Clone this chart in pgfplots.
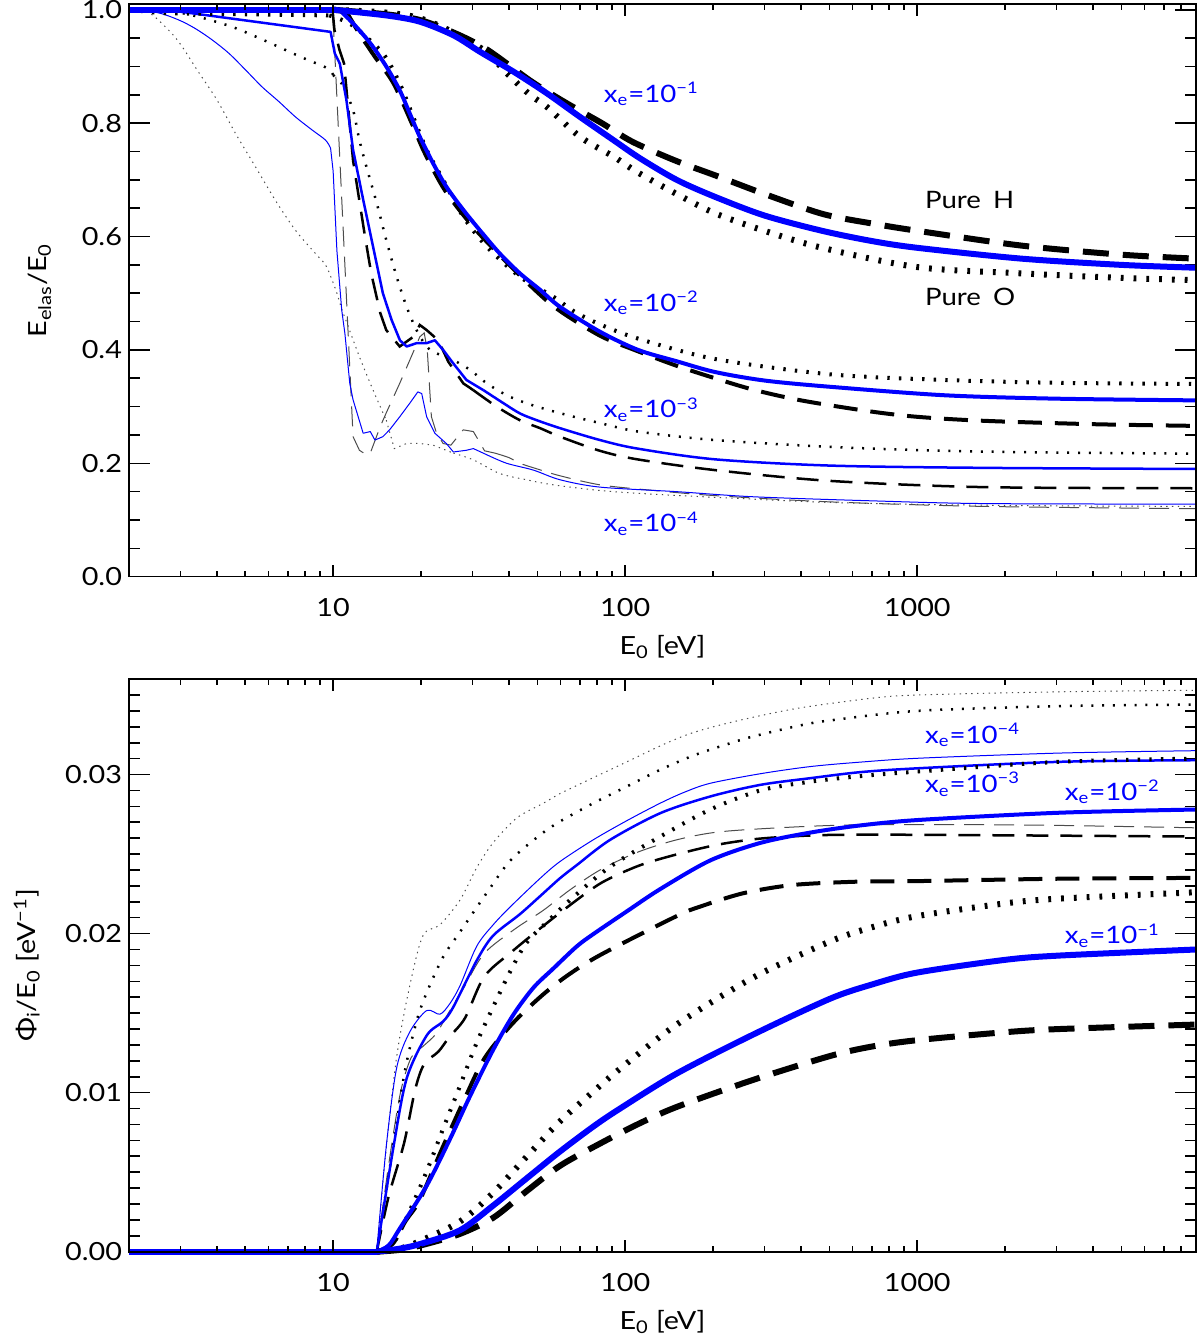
\documentclass[border=0pt]{standalone}
\usepackage{fontspec}
\setmainfont{Lato}[FakeStretch=1.15]
\usepackage{pgfplots}
\pgfplotsset{compat=1.18}
\newcommand{\lfont}{\fontsize{12.5}{15}\selectfont}
\newcommand{\afont}{\fontsize{12}{14}\selectfont}
\tikzset{
  lb1/.style={blue, line width=3pt, line join=round},
  ld1/.style={black, line width=3pt, dash pattern=on 13pt off 7pt},
  lo1/.style={black, line width=3pt, dash pattern=on 1.4pt off 5pt},
  lb2/.style={blue, line width=2pt, line join=round},
  ld2/.style={black, line width=2pt, dash pattern=on 12pt off 6.5pt},
  lo2/.style={black, line width=2pt, dash pattern=on 1.2pt off 4.6pt},
  lb3/.style={blue, line width=1.25pt, line join=round},
  ld3/.style={black, line width=1.25pt, dash pattern=on 11pt off 6pt},
  lo3/.style={black, line width=1.25pt, dash pattern=on 1pt off 4.4pt},
  lb4/.style={blue, line width=0.5pt, line join=round},
  ld4/.style={black!70, line width=0.5pt, dash pattern=on 10pt off 5pt},
  lo4/.style={black!70, line width=0.5pt, dash pattern=on 0.7pt off 2.2pt},
  sm/.style={smooth, tension=0.5},
}
\begin{document}
\begin{tikzpicture}
% ================= TOP PANEL =================
\begin{axis}[scale only axis, width=533.5pt, height=286.3pt,
  xmode=log, xmin=2, xmax=9000, clip=false,
  axis line style={line width=0.8pt},
  every tick/.style={black, line width=0.8pt},
  tick label style={font=\lfont}, label style={font=\lfont},
  at={(0,337.5pt)}, anchor=south west,
  xtick=\empty, major tick length=10.5pt, minor tick length=5.5pt,
  ymin=0, ymax=1.01, ytick={0,0.2,0.4,0.6,0.8,1.0},
  minor ytick={0.05,0.1,0.15,0.25,0.3,0.35,0.45,0.5,0.55,0.65,0.7,0.75,0.85,0.9,0.95},
  yticklabel style={/pgf/number format/.cd, fixed, fixed zerofill, precision=1, assume math mode=true},
  ylabel style={at={(axis description cs:-0.0774,0.5)}, anchor=base},
  ylabel={E\textsubscript{elas}/E\textsubscript{0}}]
% --- xe = 1e-4 ---
\addplot[ld4] coordinates {(2,1.0) (9.9,1.0) (10.05,0.96) (11.7,0.247) (12.3,0.223) (13.0,0.215) (13.4,0.218) (14.5,0.265) (15.2,0.289) (16.9,0.341) (18.3,0.382) (19.8,0.423) (20.5,0.43) (21.0,0.40) (21.7,0.282) (22.6,0.253) (23.8,0.235) (25.3,0.232) (26.5,0.245) (27.9,0.259) (30.2,0.256) (31.5,0.24) (33,0.222) (35.8,0.218)};
\addplot[ld4, sm] coordinates {(35.8,0.218) (40,0.21) (43.6,0.20) (50,0.19) (59.8,0.178) (82,0.162) (120,0.153) (203,0.143) (502,0.132) (1678,0.124) (9000,0.120)};
\addplot[lo4, sm] coordinates {(2,1.0) (2.34,0.995) (2.77,0.961) (3.04,0.935) (3.42,0.894) (4.0,0.841) (4.63,0.782) (5.42,0.723) (6.34,0.664) (7.43,0.611) (8.7,0.570) (9.42,0.550) (9.92,0.523) (10.3,0.50) (10.7,0.472) (11.1,0.450) (12.3,0.388) (13.7,0.329) (15.2,0.276)};
\addplot[lo4] coordinates {(15.2,0.276) (16.2,0.226) (17.85,0.235) (19.8,0.235) (22,0.232) (25.8,0.218)};
\addplot[lo4, sm] coordinates {(25.8,0.218) (30.2,0.206) (37.2,0.182) (45.9,0.171) (56.7,0.162) (82,0.152) (120,0.146) (203,0.140) (502,0.131) (1242,0.127) (3000,0.125) (9000,0.124)};
\addplot[lb4, sm] coordinates {(2,1.0) (2.5,0.995) (2.96,0.982) (3.37,0.967) (3.85,0.947) (4.4,0.923) (5.01,0.894) (5.71,0.864) (6.52,0.838) (7.43,0.811) (8.47,0.788) (9.42,0.770) (9.8,0.756)};
\addplot[lb4] coordinates {(9.8,0.756) (10.0,0.715) (10.3,0.575) (10.7,0.47) (10.97,0.429) (11.4,0.341) (11.7,0.312) (12.67,0.253) (13.4,0.256) (13.9,0.241) (14.8,0.247) (15.6,0.259) (16.9,0.282) (18.3,0.306) (19.5,0.326) (20.1,0.323) (20.9,0.282) (22.3,0.253) (24.4,0.235) (25.8,0.22) (28.6,0.223) (30.2,0.226) (33.6,0.215)};
\addplot[lb4, sm] coordinates {(33.6,0.215) (39.3,0.20) (48.5,0.188) (59.8,0.171) (82,0.158) (150,0.150) (274,0.141) (680,0.134) (1678,0.129) (9000,0.128)};
% --- xe = 1e-3 ---
\addplot[ld3] coordinates {(2,1.0) (9.95,1.0) (10.1,0.965) (10.5,0.93) (10.9,0.905) (11.7,0.734) (12.8,0.606) (13.5,0.535) (14.5,0.465) (15.2,0.435) (16.9,0.406) (18.8,0.423) (19.8,0.444) (20.9,0.435) (22.9,0.417) (24.8,0.379) (27.9,0.341) (30.2,0.329)};
\addplot[ld3, sm] coordinates {(30.2,0.329) (36.3,0.30) (43.6,0.276) (51.1,0.262) (59.8,0.247) (82,0.222) (110,0.207) (203,0.188) (502,0.169) (1678,0.158) (9000,0.156)};
\addplot[lo3, sm] coordinates {(2,1.0) (2.7,0.998) (3.37,0.989) (4.5,0.970) (5.87,0.945) (7.73,0.917) (9.54,0.897) (10,0.885)};
\addplot[lo3, sm] coordinates {(10,0.885) (10.46,0.874) (10.8,0.866) (11.7,0.823) (12.3,0.77) (13.0,0.723) (14.1,0.659) (15.2,0.594) (16.5,0.529) (17.85,0.476) (19.3,0.435) (20.9,0.406) (22.6,0.394) (25.8,0.382) (29.4,0.365) (33.6,0.341) (39.3,0.32) (45.9,0.306) (53.8,0.295) (66.8,0.282) (82,0.271) (110.7,0.256) (203,0.241) (502,0.229) (1242,0.222) (3000,0.219) (9000,0.217)};
\addplot[lb3] coordinates {(2,1.0) (2.96,0.997) (9.8,0.961) (10.13,0.923) (10.54,0.905) (11.1,0.841) (11.7,0.753) (12.67,0.665) (13.7,0.582) (14.8,0.50) (15.85,0.453) (16.93,0.417) (17.85,0.406) (19.31,0.412) (20.9,0.412) (22.3,0.417) (23.8,0.40) (25.8,0.376) (28.6,0.347) (32.7,0.329)};
\addplot[lb3, sm] coordinates {(32.7,0.329) (38.3,0.306) (43.6,0.288) (49.8,0.276) (59.8,0.262) (82,0.241) (110,0.226) (203,0.207) (502,0.196) (1678,0.192) (9000,0.190)};
% --- xe = 1e-2 ---
\addplot[ld2] coordinates {(2,1.0) (11,1.0)};
\addplot[ld2, sm] coordinates {(11,1.0) (12.3,0.958) (13.9,0.917) (16.1,0.87) (18.8,0.794) (20.6,0.747) (24.1,0.682) (29.8,0.62) (35.8,0.576) (45.9,0.520) (58.2,0.473) (82,0.425) (110,0.398) (150,0.372) (203,0.350) (274,0.330) (400,0.311) (680,0.292) (1000,0.282) (1683,0.275) (4000,0.269) (9000,0.266)};
\addplot[lo2] coordinates {(2,1.0) (2.6,0.994) (9.7,0.99)};
\addplot[lo2, sm] coordinates {(9.7,0.99) (11.6,0.973) (14.8,0.923) (16.9,0.87) (18.8,0.811) (20.9,0.753) (23.8,0.70) (27.9,0.635) (33.6,0.582) (43.6,0.529) (56.7,0.494) (66.8,0.468) (82,0.445) (110.7,0.420) (203,0.384) (502,0.357) (1242,0.347) (3000,0.342) (9000,0.340)};
\addplot[lb2] coordinates {(2,1.0) (10.5,1.0)};
\addplot[lb2, sm] coordinates {(10.5,1.0) (11.7,0.976) (13.4,0.941) (15.2,0.90) (16.9,0.858) (18.3,0.817) (19.8,0.776) (22,0.729) (24.4,0.688) (27.9,0.647) (31.8,0.611) (37.2,0.570) (43.6,0.535) (51.1,0.506) (59.8,0.476) (82,0.432) (110.7,0.400) (150,0.380) (203,0.361) (300,0.346) (502,0.335) (1242,0.320) (3000,0.314) (9000,0.311)};
% --- xe = 1e-1 ---
\addplot[ld1] coordinates {(2,1.0) (10,1.0)};
\addplot[ld1, sm] coordinates {(10,1.0) (15.2,0.992) (19.8,0.982) (25.8,0.96) (33.6,0.93) (47.9,0.873) (63.1,0.835) (83.2,0.80) (106,0.767) (150,0.733) (203,0.708) (300,0.675) (473,0.640) (700,0.623) (1004,0.610) (2275,0.584) (5000,0.568) (9000,0.561)};
\addplot[lo1] coordinates {(2,1.0) (10,1.0)};
\addplot[lo1, sm] coordinates {(10,1.0) (15.2,0.995) (19.8,0.985) (25.8,0.96) (33.6,0.925) (39.3,0.888) (47.2,0.85) (53.8,0.829) (70,0.776) (91.2,0.741) (109.6,0.714) (150,0.675) (203,0.641) (300,0.61) (473,0.580) (1004,0.546) (2275,0.535) (5000,0.527) (9000,0.523)};
\addplot[lb1] coordinates {(2,1.0) (10,1.0)};
\addplot[lb1, sm] coordinates {(10,1.0) (15.2,0.99) (19.8,0.979) (25.8,0.955) (31.8,0.926) (41.4,0.891) (53.8,0.853) (70,0.811) (91.2,0.770) (112.4,0.738) (150,0.700) (203,0.670) (300,0.637) (473,0.610) (700,0.592) (1004,0.580) (2275,0.561) (5000,0.550) (9000,0.545)};
\node[anchor=base west, text=blue, font=\afont] at (axis cs:80,0.837) {x\textsubscript{e}=10\textsuperscript{−1}};
\node[anchor=base west, text=blue, font=\afont] at (axis cs:80,0.468) {x\textsubscript{e}=10\textsuperscript{−2}};
\node[anchor=base west, text=blue, font=\afont] at (axis cs:80,0.280) {x\textsubscript{e}=10\textsuperscript{−3}};
\node[anchor=base west, text=blue, font=\afont] at (axis cs:80,0.079) {x\textsubscript{e}=10\textsuperscript{−4}};
\node[anchor=base west, font=\afont] at (axis cs:1006,0.650) {Pure\hspace{0.5em}H};
\node[anchor=base west, font=\afont] at (axis cs:1006,0.479) {Pure\hspace{0.5em}O};
\end{axis}
\begin{axis}[scale only axis, width=533.5pt, height=286.3pt,
  xmode=log, xmin=2, xmax=9000,
  axis line style={line width=0.8pt},
  every tick/.style={black, line width=0.8pt},
  tick label style={font=\lfont}, label style={font=\lfont},
  at={(0,337.5pt)}, anchor=south west,
  ymin=0, ymax=1.01, ytick=\empty,
  xtick={10,100,1000}, xticklabels={10,100,1000},
  minor xtick={2,3,4,5,6,7,8,9,20,30,40,50,60,70,80,90,200,300,400,500,600,700,800,900,2000,3000,4000,5000,6000,7000,8000,9000},
  major tick length=6pt, minor tick length=3pt,
  xticklabel style={yshift=-7.3pt},
  xlabel style={at={(axis description cs:0.5,-0.1352)}, anchor=base},
  xlabel={E\textsubscript{0} [eV]}]
\end{axis}
% ================= BOTTOM PANEL =================
\begin{axis}[scale only axis, width=533.5pt, height=286.3pt,
  xmode=log, xmin=2, xmax=9000, clip=false,
  axis line style={line width=0.8pt},
  every tick/.style={black, line width=0.8pt},
  tick label style={font=\lfont}, label style={font=\lfont},
  at={(0,0)}, anchor=south west,
  xtick=\empty, major tick length=10.5pt, minor tick length=5.5pt,
  ymin=0, ymax=0.036, ytick={0,0.01,0.02,0.03},
  minor ytick={0.001,0.002,0.003,0.004,0.005,0.006,0.007,0.008,0.009,0.011,0.012,0.013,0.014,0.015,0.016,0.017,0.018,0.019,0.021,0.022,0.023,0.024,0.025,0.026,0.027,0.028,0.029,0.031,0.032,0.033,0.034,0.035},
  scaled y ticks=false,
  yticklabel style={/pgf/number format/.cd, fixed, fixed zerofill, precision=2, assume math mode=true},
  ylabel style={at={(axis description cs:-0.0879,0.5)}, anchor=base},
  ylabel={Φ\textsubscript{i}/E\textsubscript{0} [eV\textsuperscript{−1}]}]
% flat parts below threshold
\addplot[ld4] coordinates {(2,0) (14.1,0)};
\addplot[lo4] coordinates {(2,0) (14.1,0)};
\addplot[ld3] coordinates {(2,0) (14.1,0)};
\addplot[lo3] coordinates {(2,0) (14.1,0)};
\addplot[ld2] coordinates {(2,0) (14.1,0)};
\addplot[lo2] coordinates {(2,0) (14.1,0)};
\addplot[ld1] coordinates {(2,0) (14.1,0)};
\addplot[lo1] coordinates {(2,0) (14.1,0)};
% --- xe = 1e-4 ---
\addplot[ld4, sm] coordinates {(14.1,0) (15.5,0.0055) (17,0.0100) (18.5,0.0122) (20.3,0.01291) (22.5,0.0137) (25.1,0.01516) (28,0.0166) (32.9,0.01875) (42,0.0203) (52.3,0.02145) (64.7,0.02275) (82,0.0240) (109.6,0.0251) (150.4,0.0259) (211,0.0264) (377,0.0267) (638,0.02684) (1500,0.02685) (3076,0.0268) (9000,0.02665)};
\addplot[lo4, sm] coordinates {(14.1,0) (15.0,0.0055) (16.5,0.01225) (18.3,0.01673) (20.3,0.01987) (23.2,0.02055) (27.2,0.02212) (31,0.02414) (35.3,0.02571) (42.6,0.02728) (52.5,0.0282) (59.8,0.0288) (76.7,0.02975) (101.3,0.0308) (131.8,0.0318) (162.6,0.0325) (200,0.0330) (274,0.0336) (400,0.0342) (700,0.0348) (1000,0.0350) (3076,0.0352) (9000,0.0353)};
\addplot[lb4, sm] coordinates {(14.1,0) (15.2,0.00662) (16.5,0.01156) (18.3,0.01382) (20.9,0.01516) (23.2,0.01493) (25.1,0.0156) (27.2,0.01673) (31,0.0192) (35.3,0.02055) (40.4,0.02168) (51.1,0.02347) (59.8,0.02453) (77.8,0.0259) (101.3,0.0271) (131.8,0.0282) (160,0.0289) (195.5,0.02945) (290,0.03005) (430,0.0305) (638,0.03078) (1023,0.03103) (3076,0.03135) (9000,0.0315)};
% --- xe = 1e-3 ---
\addplot[ld3, sm] coordinates {(14.1,0) (15.5,0.0035) (17.5,0.00684) (19.1,0.01021) (20.5,0.0118) (22.9,0.01257) (25,0.0135) (28.3,0.0147) (32.9,0.01729) (40.9,0.01886) (51.1,0.02032) (64.6,0.02178) (83,0.0232) (111,0.02426) (148,0.02495) (206,0.02558) (282,0.02595) (398,0.02614) (545,0.02621) (1023,0.02621) (9000,0.0261)};
\addplot[lo3, sm] coordinates {(14.1,0) (15.7,0.0055) (17.5,0.01111) (19.3,0.01448) (20.9,0.01628) (23.8,0.01853) (27.2,0.02011) (33.6,0.02257) (40.4,0.02459) (51.1,0.0262) (59.8,0.02705) (77.8,0.0282) (101.3,0.02925) (131.8,0.0303) (171.5,0.0312) (222.8,0.0319) (274.8,0.0324) (400,0.0331) (502,0.0334) (1000,0.0340) (3076,0.0343) (9000,0.0344)};
\addplot[lb3, sm] coordinates {(14.1,0) (16.1,0.00662) (17.85,0.01089) (20.9,0.01359) (23.8,0.01448) (25.8,0.01539) (31,0.0183) (35.3,0.01987) (43.6,0.02122) (51.1,0.02235) (59.8,0.02348) (68.2,0.0243) (88.7,0.02589) (131.8,0.02757) (195.5,0.02862) (290,0.02935) (430,0.02977) (638,0.03015) (1023,0.0304) (3076,0.0308) (9000,0.0309)};
% --- xe = 1e-2 ---
\addplot[ld2, sm] coordinates {(14.1,0) (16,0.0005) (17.7,0.00193) (19.8,0.00325) (23.5,0.0064) (27.9,0.00943) (32.9,0.01213) (40.9,0.0143) (51.8,0.0161) (63.8,0.0174) (83,0.0187) (150,0.0211) (180.8,0.0217) (254,0.02254) (377,0.02306) (638,0.02327) (1000,0.0233) (3076,0.02345) (9000,0.0235)};
\addplot[lo2, sm] coordinates {(14.1,0) (16.1,0.00055) (18.3,0.00258) (20.9,0.00505) (23.8,0.00774) (27.2,0.01044) (31,0.01313) (35.3,0.01539) (40.4,0.01763) (45.9,0.01942) (53.8,0.0207) (66.5,0.0223) (88.7,0.0242) (131.8,0.0261) (195.5,0.0278) (290,0.0290) (430,0.02955) (638,0.0299) (1023,0.0302) (3076,0.0308) (9000,0.0310)};
\addplot[lb2, sm] coordinates {(14.1,0) (15.5,0.0004) (16.9,0.00145) (20.9,0.00415) (25.1,0.00707) (29.4,0.00977) (35.3,0.01269) (41.4,0.0149) (48.5,0.0166) (56.7,0.0178) (68.3,0.0192) (78.2,0.0200) (101.3,0.0214) (131.8,0.0228) (195.5,0.0246) (290,0.0257) (430,0.02635) (638,0.0268) (1023,0.02715) (3076,0.0276) (9000,0.0278)};
% --- xe = 1e-1 ---
\addplot[ld1, sm] coordinates {(14.1,0) (17,0.00012) (20,0.0004) (27,0.0011) (35.3,0.00213) (45.9,0.0038) (59.8,0.0054) (82,0.0068) (110,0.0080) (150,0.0091) (274,0.0108) (502,0.0123) (700,0.0129) (1000,0.0133) (2000,0.0138) (3076,0.0140) (9000,0.01428)};
\addplot[lo1, sm] coordinates {(14.1,0) (17,0.0002) (20,0.0007) (27.2,0.0019) (35.3,0.0037) (45.9,0.00596) (59.8,0.0082) (78.2,0.0101) (96,0.0115) (150,0.01428) (274,0.01723) (502,0.0195) (700,0.0204) (1000,0.0211) (2000,0.0219) (3076,0.0222) (9000,0.0226)};
\addplot[lb1] coordinates {(2,0) (14.1,0)};
\addplot[lb1, sm] coordinates {(14.1,0) (17,0.0002) (20,0.0005) (27.2,0.00135) (35.3,0.0029) (45.9,0.0046) (59.8,0.0063) (78.2,0.0079) (96,0.0090) (150,0.0112) (274,0.01365) (502,0.0159) (700,0.0168) (1000,0.01755) (2000,0.01835) (3076,0.01862) (9000,0.0190)};
\node[anchor=base west, text=blue, font=\afont] at (axis cs:1006,0.03196) {x\textsubscript{e}=10\textsuperscript{−4}};
\node[anchor=base west, text=blue, font=\afont] at (axis cs:1006,0.02886) {x\textsubscript{e}=10\textsuperscript{−3}};
\node[anchor=base west, text=blue, font=\afont] at (axis cs:3027,0.02838) {x\textsubscript{e}=10\textsuperscript{−2}};
\node[anchor=base west, text=blue, font=\afont] at (axis cs:3027,0.01936) {x\textsubscript{e}=10\textsuperscript{−1}};
\end{axis}
\begin{axis}[scale only axis, width=533.5pt, height=286.3pt,
  xmode=log, xmin=2, xmax=9000,
  axis line style={line width=0.8pt},
  every tick/.style={black, line width=0.8pt},
  tick label style={font=\lfont}, label style={font=\lfont},
  at={(0,0)}, anchor=south west,
  ymin=0, ymax=0.036, ytick=\empty,
  xtick={10,100,1000}, xticklabels={10,100,1000},
  minor xtick={2,3,4,5,6,7,8,9,20,30,40,50,60,70,80,90,200,300,400,500,600,700,800,900,2000,3000,4000,5000,6000,7000,8000,9000},
  major tick length=6pt, minor tick length=3pt,
  xticklabel style={yshift=-7.3pt},
  xlabel style={at={(axis description cs:0.5,-0.1352)}, anchor=base},
  xlabel={E\textsubscript{0} [eV]}]
\end{axis}
\pgfresetboundingbox
\path[use as bounding box] (-64.5pt,-44.65pt) rectangle (535.5pt,625.85pt);
\end{tikzpicture}
\end{document}
